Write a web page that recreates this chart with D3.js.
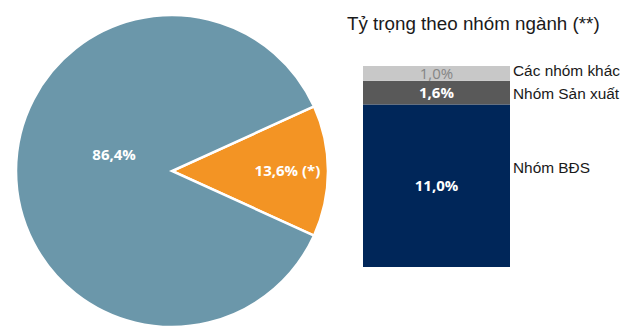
<!DOCTYPE html>
<html>
<head>
<meta charset="utf-8">
<script src="https://cdn.jsdelivr.net/npm/d3@7"></script>
<style>
  html, body { margin: 0; padding: 0; background: #fff; }
  svg { display: block; }
</style>
</head>
<body>
<svg id="chart" width="627" height="326"></svg>
<script>
// Pie: share of the portfolio
const pieLabels = ["13,6% (*)", "86,4%"];
const pieValues = [13.6, 86.4];
const pieColors = ["#f39424", "#6b97aa"];

// Stacked bar: breakdown of the 13,6% by sector group (bottom to top)
const groupNames = ["Nhóm BĐS", "Nhóm Sản xuất", "Các nhóm khác"];
const groupValues = [11.0, 1.6, 1.0];
const groupLabels = ["11,0%", "1,6%", "1,0%"];
const groupColors = ["#002659", "#595959", "#c8c8c8"];
const groupTextColors = ["#ffffff", "#ffffff", "#858585"];

const title = "Tỷ trọng theo nhóm ngành (**)";

const svg = d3.select("#chart");
const labelFont = "'Open Sans', 'DejaVu Sans', sans-serif";
const textFont = "'Liberation Sans', Arial, sans-serif";

// ---- Pie ----
const cx = 172, cy = 171, R = 156;
const firstAngle = (Math.PI / 2) - (pieValues[0] / 100) * Math.PI; // centre the small slice on 3 o'clock
const pie = d3.pie().sort(null).value(d => d)
  .startAngle(firstAngle).endAngle(firstAngle + 2 * Math.PI);
const arcs = pie(pieValues);
const arc = d3.arc().innerRadius(0).outerRadius(R);

const gPie = svg.append("g").attr("transform", `translate(${cx},${cy})`);
gPie.selectAll("path").data(arcs).join("path")
  .attr("d", arc)
  .attr("fill", (d, i) => pieColors[i])
  .attr("stroke", "#ffffff")
  .attr("stroke-width", 2.5)
  .attr("stroke-linejoin", "miter");

// label placement: radius fraction and angle (radians, clockwise from 12 o'clock)
const labelPlace = [
  d => ({ r: R * 0.74, a: (d.startAngle + d.endAngle) / 2 }),
  d => ({ r: R * 0.385, a: -1.30 })
];
gPie.selectAll("text").data(arcs).join("text")
  .attr("transform", (d, i) => {
    const p = labelPlace[i](d);
    return `translate(${p.r * Math.sin(p.a)},${-p.r * Math.cos(p.a)})`;
  })
  .attr("text-anchor", "middle")
  .attr("dy", "0.36em")
  .attr("fill", "#ffffff")
  .attr("font-family", labelFont)
  .attr("font-weight", "bold")
  .attr("font-size", 15)
  .text((d, i) => pieLabels[i]);

// ---- Title ----
svg.append("text")
  .attr("x", 347).attr("y", 30)
  .attr("font-family", textFont)
  .attr("font-size", 18.8)
  .attr("fill", "#1a1a1a")
  .text(title);

// ---- Stacked bar ----
const total = d3.sum(groupValues);
const y = d3.scaleLinear().domain([0, total]).range([267, 66]);
const x = d3.scaleBand().domain(["bar"]).range([363, 510]).padding(0);

const stacked = [];
let acc = 0;
groupValues.forEach((v, i) => { stacked.push({ y0: acc, y1: acc + v, i }); acc += v; });

const gBar = svg.append("g");
gBar.selectAll("rect").data(stacked).join("rect")
  .attr("x", x("bar"))
  .attr("width", x.bandwidth())
  .attr("y", d => y(d.y1))
  .attr("height", d => y(d.y0) - y(d.y1))
  .attr("fill", d => groupColors[d.i]);

gBar.selectAll("text.val").data(stacked).join("text")
  .attr("class", "val")
  .attr("x", x("bar") + x.bandwidth() / 2)
  .attr("y", d => (y(d.y0) + y(d.y1)) / 2)
  .attr("dy", "0.36em")
  .attr("text-anchor", "middle")
  .attr("fill", d => groupTextColors[d.i])
  .attr("font-family", labelFont)
  .attr("font-weight", d => d.i === 2 ? "normal" : "bold")
  .attr("font-size", 15)
  .text(d => groupLabels[d.i]);

// Category names to the right of the bar
const nameOffsets = [-18, 1, -2.5];
gBar.selectAll("text.name").data(stacked).join("text")
  .attr("class", "name")
  .attr("x", 513)
  .attr("y", d => (y(d.y0) + y(d.y1)) / 2 + nameOffsets[d.i])
  .attr("dy", "0.35em")
  .attr("fill", "#1a1a1a")
  .attr("font-family", textFont)
  .attr("font-size", 15.4)
  .text(d => groupNames[d.i]);
</script>
</body>
</html>
